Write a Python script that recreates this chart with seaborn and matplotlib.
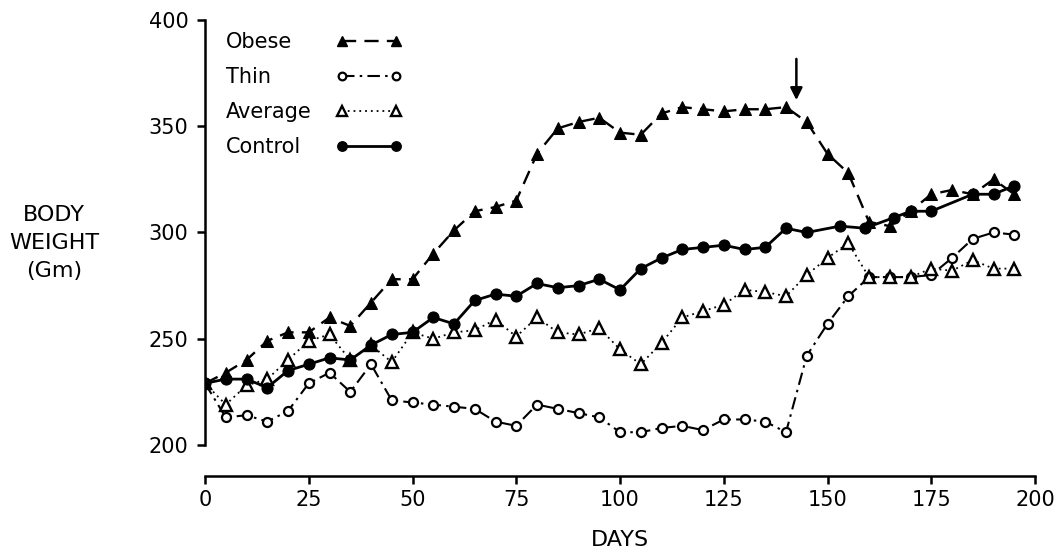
import numpy as np
import pandas as pd
import matplotlib
matplotlib.use("Agg")
import matplotlib.pyplot as plt
import seaborn as sns
from matplotlib.lines import Line2D

# ---- data ----
days = list(range(0, 200, 5))
obese = [229, 234, 240, 249, 253, 253, 260, 256, 267, 278, 278, 290, 301, 310, 312, 315,
         337, 349, 352, 354, 347, 346, 356, 359, 358, 357, 358, 358, 359, 352, 337, 328,
         305, 303, 310, 318, 320, 318, 325, 318]
thin = [229, 213, 214, 211, 216, 229, 234, 225, 238, 221, 220, 219, 218, 217, 211, 209,
        219, 217, 215, 213, 206, 206, 208, 209, 207, 212, 212, 211, 206, 242, 257, 270,
        279, 279, 279, 280, 288, 297, 300, 299]
average = [229, 219, 228, 231, 240, 249, 252, 240, 247, 239, 253, 250, 253, 254, 259, 251,
           260, 253, 252, 255, 245, 238, 248, 260, 263, 266, 273, 272, 270, 280, 288, 295,
           279, 279, 279, 283, 282, 287, 283, 283]
control_days = list(range(0, 150, 5)) + [153, 159, 166, 170, 175, 185, 190, 195]
control = [229, 231, 231, 227, 235, 238, 241, 240, 247, 252, 253, 260, 257, 268, 271, 270,
           276, 274, 275, 278, 273, 283, 288, 292, 293, 294, 292, 293, 302, 300,
           303, 302, 307, 310, 310, 318, 318, 322]
labels = ["Obese", "Thin", "Average", "Control"]
x_ticks = [0, 25, 50, 75, 100, 125, 150, 175, 200]
y_ticks = [200, 250, 300, 350, 400]
arrow_day = 142.5

sns.set_style("ticks")
plt.rcParams["font.family"] = ["DejaVu Sans"]
plt.rcParams["text.color"] = "black"

fig = plt.figure(figsize=(10.63, 5.52), dpi=100)
ax = fig.add_axes([205 / 1063, 1 - 476 / 552, (1035 - 205) / 1063, (476 - 20) / 552])

styles = [
    dict(x=days, y=obese, marker="^", markersize=9, mfc="black", mec="black",
         linestyle=(0, (6, 3.5)), lw=1.7),
    dict(x=days, y=thin, marker="o", markersize=6.5, mfc="white", mec="black", mew=1.6,
         linestyle=(0, (6, 2.5, 1.2, 2.5)), lw=1.5),
    dict(x=days, y=average, marker="^", markersize=8, mfc="white", mec="black", mew=1.7,
         linestyle=(0, (1, 2.2)), lw=1.3),
    dict(x=control_days, y=control, marker="o", markersize=8, mfc="black", mec="black",
         linestyle="-", lw=2.0),
]
handles = []
for lab, st in zip(labels, styles):
    x = st.pop("x")
    y = st.pop("y")
    sns.lineplot(x=x, y=y, ax=ax, color="black", estimator=None, sort=False, **st)
    hst = dict(st)
    hst["markersize"] = st["markersize"] * 0.85
    handles.append(Line2D([], [], color="black", **hst))

ax.set_xlim(0, 200)
ax.set_ylim(185.4, 400)
ax.set_xticks(x_ticks)
ax.set_yticks(y_ticks)
ax.spines["left"].set_bounds(200, 400)
ax.spines["bottom"].set_bounds(0, 200)
for s in ["top", "right"]:
    ax.spines[s].set_visible(False)
for s in ["left", "bottom"]:
    ax.spines[s].set_linewidth(1.8)
    ax.spines[s].set_color("black")
ax.tick_params(axis="both", direction="out", length=6, width=1.8, colors="black",
               labelsize=15, pad=4)
ax.tick_params(axis="y", pad=6)
ax.set_xlabel("")
ax.set_ylabel("")

ax.annotate("", xy=(arrow_day, 361), xytext=(arrow_day, 383),
            arrowprops=dict(arrowstyle="-|>", color="black", lw=1.8, mutation_scale=18),
            annotation_clip=False)

leg = ax.legend(handles, labels, loc="upper left", bbox_to_anchor=(226 / 1063, 1 - 32 / 552),
                bbox_transform=fig.transFigure, frameon=False, markerfirst=False,
                numpoints=2, handlelength=3.2, handletextpad=0.6, labelspacing=0.72,
                borderpad=0, borderaxespad=0, fontsize=15, labelcolor="black")
# left-align the labels while keeping the line samples in one column
for col in leg._legend_handle_box.get_children():
    col.align = "left"
    for hp in col.get_children():
        hp.mode = "expand"
        hp.width = 176

fig.text(54 / 1063, 1 - 243 / 552, "BODY\nWEIGHT\n(Gm)", ha="center", va="center",
         fontsize=16, linespacing=1.5)
fig.text(620 / 1063, 1 - 540 / 552, "DAYS", ha="center", va="center", fontsize=16)

fig.savefig("out.png", dpi=100)
